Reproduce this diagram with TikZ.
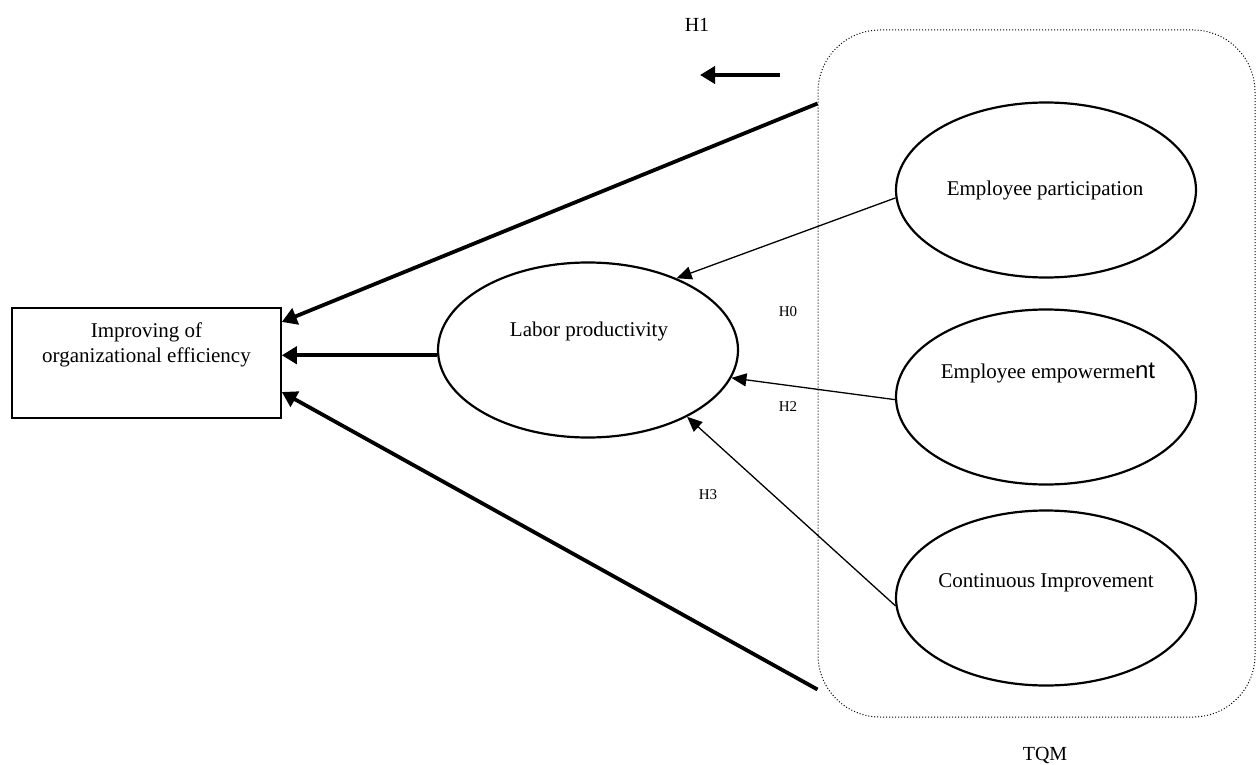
\documentclass[tikz,border=0pt]{standalone}
\usepackage{fontspec}
\setmainfont{Liberation Serif}
\newfontfamily\sansnt{Liberation Sans}
\usetikzlibrary{arrows.meta,shapes.geometric}
\begin{document}
\begin{tikzpicture}[x=1pt,y=-1pt,
  oval/.style={draw, line width=2.2pt, ellipse, minimum width=300pt, minimum height=175pt, inner sep=0pt},
  txt/.style={font=\fontsize{21}{25}\selectfont, inner sep=0pt, align=center},
  hlab/.style={font=\fontsize{15}{18}\selectfont, inner sep=0pt},
  biglab/.style={font=\fontsize{20}{24}\selectfont, inner sep=0pt},
  thickarr/.style={line width=3.8pt, -{Triangle[length=15pt,width=17pt]}},
  thinarr/.style={line width=1.3pt, -{Triangle[length=15pt,width=13pt]}},
  tqmbox/.style={draw, line width=1pt, dash pattern=on 1pt off 2pt, rounded corners=62pt, minimum width=437pt, minimum height=687pt, inner sep=0pt},
  outbox/.style={draw, line width=1.6pt, minimum width=269pt, minimum height=110pt, inner sep=0pt}
]
\useasboundingbox (0,0) rectangle (1258,765);

% TQM container
\node[tqmbox] (tqm) at (1036.5,373.5) {};
\node[biglab] (tqmlab) at (1045,755) {TQM};

% outcome box
\node[outbox] (box) at (146.5,363) {};
\node[txt] (boxtxt) at (146.5,345) {Improving of\\organizational efficiency};

% ellipses
\node[oval] (lab) at (588,350) {};
\node[txt] (labtxt) at (589,331) {Labor productivity};
\node[oval] (par) at (1046,190) {};
\node[txt] (partxt) at (1045,190) {Employee participation};
\node[oval] (emp) at (1046,397) {};
\node[txt] (emptxt) at (1048,373) {Employee empowerme{\sansnt\fontsize{24}{28}\selectfont nt}};
\node[oval] (con) at (1046,598) {};
\node[txt] (contxt) at (1046,583) {Continuous Improvement};

% labels
\node[biglab] (h1) at (697,25) {H1};
\node[hlab] (h0) at (788,312) {H0};
\node[hlab] (h2) at (788,407) {H2};
\node[hlab] (h3) at (708,495) {H3};

% H1 arrow
\coordinate (h1s) at (780,75);
\coordinate (h1e) at (700,75);
\draw[thickarr] (h1s) -- (h1e);

% thick arrows to outcome box
\draw[thickarr] ([yshift=270pt]tqm.west) -- ([yshift=41pt]box.east);
\draw[thickarr] (lab.182) -- (lab.182 -| box.east);
\draw[thickarr] ([yshift=-316pt]tqm.west) -- ([yshift=-29pt]box.east);

% thin arrows to labor productivity
\draw[thinarr] (par.183) -- (lab.39);
\draw[thinarr] (emp.181) -- (lab.-11);
\draw[thinarr] (con.183) -- (lab.-34);
\end{tikzpicture}
\end{document}
